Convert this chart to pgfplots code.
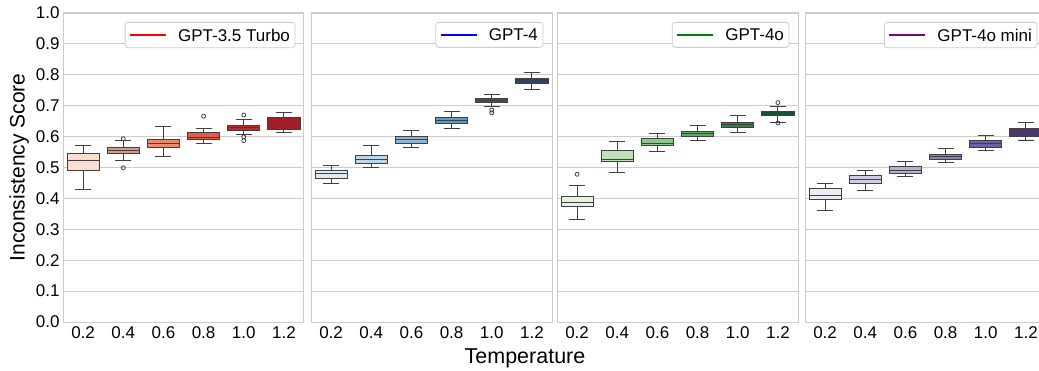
\documentclass[border=0pt]{standalone}
\usepackage{pgfplots}
\pgfplotsset{compat=1.18}
\usepgfplotslibrary{statistics}
\usepackage{fontspec}
\setmainfont{Liberation Sans}

\definecolor{boxedge}{RGB}{64,64,64}
\definecolor{gridc}{RGB}{204,204,204}
\definecolor{legR}{RGB}{255,0,0}
\definecolor{legB}{RGB}{0,0,255}
\definecolor{legG}{RGB}{0,128,0}
\definecolor{legP}{RGB}{128,0,128}
% Reds
\definecolor{r1}{RGB}{249,221,209}
\definecolor{r2}{RGB}{213,155,136}
\definecolor{r3}{RGB}{233,138,112}
\definecolor{r4}{RGB}{222,92,72}
\definecolor{r5}{RGB}{190,40,45}
\definecolor{r6}{RGB}{160,30,40}
% Blues
\definecolor{b1}{RGB}{225,235,245}
\definecolor{b2}{RGB}{190,214,234}
\definecolor{b3}{RGB}{143,180,208}
\definecolor{b4}{RGB}{92,155,200}
\definecolor{b5}{RGB}{42,90,140}
\definecolor{b6}{RGB}{28,72,126}
% Greens
\definecolor{g1}{RGB}{228,243,222}
\definecolor{g2}{RGB}{192,224,186}
\definecolor{g3}{RGB}{142,200,137}
\definecolor{g4}{RGB}{92,170,102}
\definecolor{g5}{RGB}{50,130,76}
\definecolor{g6}{RGB}{22,82,48}
% Purples
\definecolor{p1}{RGB}{236,236,243}
\definecolor{p2}{RGB}{206,206,228}
\definecolor{p3}{RGB}{176,176,210}
\definecolor{p4}{RGB}{136,131,180}
\definecolor{p5}{RGB}{110,96,165}
\definecolor{p6}{RGB}{82,46,132}

\newcommand{\bx}[8]{%
\addplot[boxplot prepared={draw position=#1, lower whisker=#2, lower quartile=#3, median=#4, upper quartile=#5, upper whisker=#6},
  fill=#7, draw=boxedge, line width=0.9pt, mark=o, mark size=2pt, mark options={draw=boxedge, fill=white, line width=0.8pt}, forget plot] coordinates {#8};}

% legend box: colour, label
\newcommand{\legbox}[2]{%
\node[anchor=north east, draw=gridc, line width=0.8pt, rounded corners=3pt, fill=white,
  inner xsep=5pt, inner ysep=6.5pt, font=\fontsize{17}{20}\selectfont]
  at (rel axis cs:0.964,0.971)
  {\textcolor{#1}{\rule[0.3em]{36pt}{1.8pt}}\hspace{12pt}#2};}

\pgfplotsset{
  panel/.style={
    width=241pt, height=309pt, scale only axis,
    xmin=-0.5, xmax=5.5, ymin=0, ymax=1,
    xtick={0,1,2,3,4,5},
    xticklabels={0.2,0.4,0.6,0.8,1.0,1.2},
    ytick={0,0.1,0.2,0.3,0.4,0.5,0.6,0.7,0.8,0.9,1.0},
    ymajorgrids, grid style={draw=gridc, line width=0.8pt},
    axis line style={draw=gridc, line width=1pt},
    major tick length=0pt,
    tick label style={font=\fontsize{17}{20}\selectfont},
    /pgf/number format/assume math mode=true,
    yticklabel style={/pgf/number format/fixed, /pgf/number format/fixed zerofill, /pgf/number format/precision=1},
    xticklabel style={yshift=-1.5pt},
    boxplot/draw direction=y,
    boxplot/box extend=0.8,
    boxplot/whisker extend=0.4,
    clip=false,
  }
}

\begin{document}
\begin{tikzpicture}
\useasboundingbox (0pt,0pt) rectangle (1039pt,370pt);

% Panel 1: GPT-3.5 Turbo
\begin{axis}[panel, at={(63pt,48pt)}, anchor=south west,
  ylabel={Inconsistency Score}, ylabel style={font=\fontsize{21}{24}\selectfont}]
\bx{0}{0.429}{0.491}{0.523}{0.546}{0.571}{r1}{}
\bx{1}{0.522}{0.547}{0.554}{0.564}{0.586}{r2}{(1,0.593) (1,0.499)}
\bx{2}{0.535}{0.564}{0.578}{0.591}{0.632}{r3}{}
\bx{3}{0.579}{0.591}{0.598}{0.615}{0.626}{r4}{(3,0.666)}
\bx{4}{0.606}{0.621}{0.629}{0.636}{0.655}{r5}{(4,0.670) (4,0.599) (4,0.587)}
\bx{5}{0.613}{0.624}{0.649}{0.662}{0.677}{r6}{}
\legbox{legR}{GPT-3.5 Turbo}
\end{axis}

% Panel 2: GPT-4
\begin{axis}[panel, at={(311pt,48pt)}, anchor=south west, yticklabels={}]
\bx{0}{0.448}{0.466}{0.480}{0.492}{0.508}{b1}{}
\bx{1}{0.499}{0.513}{0.526}{0.538}{0.570}{b2}{}
\bx{2}{0.565}{0.579}{0.590}{0.601}{0.619}{b3}{}
\bx{3}{0.627}{0.643}{0.653}{0.662}{0.681}{b4}{}
\bx{4}{0.696}{0.710}{0.717}{0.724}{0.735}{b5}{(4,0.686) (4,0.677)}
\bx{5}{0.752}{0.772}{0.781}{0.789}{0.809}{b6}{}
\legbox{legB}{GPT-4}
\end{axis}

% Panel 3: GPT-4o
\begin{axis}[panel, at={(557pt,48pt)}, anchor=south west, yticklabels={}]
\bx{0}{0.333}{0.374}{0.388}{0.407}{0.443}{g1}{(0,0.478)}
\bx{1}{0.485}{0.519}{0.526}{0.556}{0.584}{g2}{}
\bx{2}{0.552}{0.571}{0.578}{0.594}{0.611}{g3}{}
\bx{3}{0.587}{0.600}{0.609}{0.618}{0.636}{g4}{}
\bx{4}{0.614}{0.629}{0.638}{0.646}{0.667}{g5}{}
\bx{5}{0.646}{0.667}{0.674}{0.682}{0.697}{g6}{(5,0.710) (5,0.644)}
\legbox{legG}{GPT-4o}
\end{axis}

% Panel 4: GPT-4o mini
\begin{axis}[panel, at={(805pt,48pt)}, anchor=south west, yticklabels={}]
\bx{0}{0.361}{0.397}{0.408}{0.431}{0.449}{p1}{}
\bx{1}{0.426}{0.449}{0.460}{0.475}{0.491}{p2}{}
\bx{2}{0.470}{0.480}{0.492}{0.502}{0.519}{p3}{}
\bx{3}{0.515}{0.526}{0.535}{0.543}{0.562}{p4}{}
\bx{4}{0.554}{0.566}{0.578}{0.589}{0.605}{p5}{}
\bx{5}{0.589}{0.602}{0.614}{0.626}{0.647}{p6}{}
\legbox{legP}{GPT-4o mini}
\end{axis}

\node[font=\fontsize{21.5}{24}\selectfont] at (525pt,12pt) {Temperature};
\end{tikzpicture}
\end{document}
